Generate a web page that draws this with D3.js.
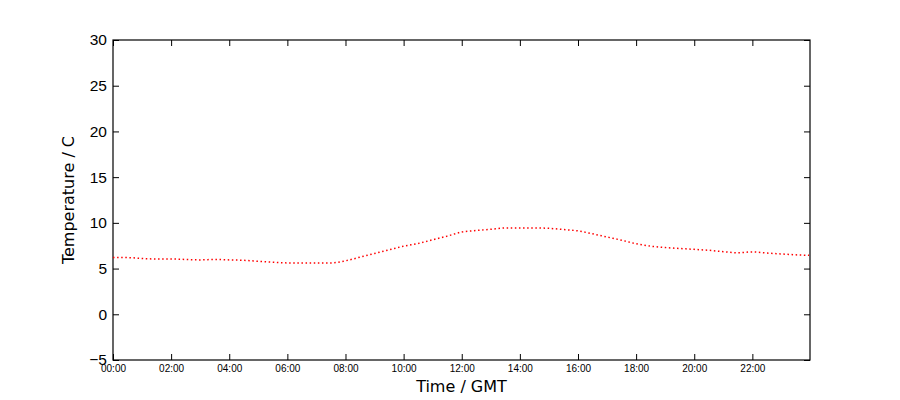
<!DOCTYPE html>
<html>
<head>
<meta charset="utf-8">
<script src="https://cdn.jsdelivr.net/npm/d3@7"></script>
<style>
  html, body { margin: 0; padding: 0; background: #fff; }
  svg { display: block; font-family: "DejaVu Sans", sans-serif; }
</style>
</head>
<body>
<svg id="chart" width="900" height="400"></svg>
<script>
// Data: time of day (GMT) and temperature (°C)
const times = ["00:00","00:30","01:00","01:30","02:00","02:30","03:00","03:30","04:00","04:30",
  "05:00","05:30","06:00","06:30","07:00","07:30","08:00","08:30","09:00","09:30",
  "10:00","10:30","11:00","11:30","12:00","12:30","13:00","13:30","14:00","14:30",
  "15:00","15:30","16:00","16:30","17:00","17:30","18:00","18:30","19:00","19:30",
  "20:00","20:30","21:00","21:30","22:00","22:30","23:00","23:30","23:57"];
const temps = [6.2,6.2,6.1,6.05,6.05,6.0,5.95,6.0,5.95,5.9,
  5.8,5.7,5.62,5.62,5.62,5.62,5.85,6.25,6.65,7.05,
  7.45,7.75,8.15,8.55,9.0,9.16,9.3,9.44,9.45,9.45,
  9.4,9.27,9.12,8.8,8.45,8.1,7.72,7.45,7.3,7.2,
  7.1,7.0,6.85,6.73,6.82,6.7,6.6,6.5,6.45];
const xTickLabels = ["00:00","02:00","04:00","06:00","08:00","10:00","12:00","14:00","16:00","18:00","20:00","22:00"];
const yTicks = [-5,0,5,10,15,20,25,30];

const parse = d3.timeParse("%H:%M");
const data = times.map((t, i) => ({ t: parse(t), v: temps[i] }));

const margin = { left: 113, right: 90, top: 40, bottom: 40 };
const W = 900, H = 400;
const svg = d3.select("#chart");

const x = d3.scaleTime()
  .domain([parse("00:00"), parse("23:59")])
  .range([margin.left, W - margin.right]);
const y = d3.scaleLinear().domain([-5, 30]).range([H - margin.bottom, margin.top]);

const xTickVals = xTickLabels.map(parse);
const fmtY = d => (d < 0 ? "\u2212" + Math.abs(d) : String(d));

// bottom axis
const gx = svg.append("g").attr("transform", `translate(0,${H - margin.bottom})`)
  .call(d3.axisBottom(x).tickValues(xTickVals).tickFormat(d3.timeFormat("%H:%M"))
    .tickSizeInner(-6).tickSizeOuter(0).tickPadding(5));
gx.selectAll("text").attr("font-size", 10).attr("fill", "#000");
// top axis
svg.append("g").attr("transform", `translate(0,${margin.top})`)
  .call(d3.axisTop(x).tickValues(xTickVals).tickFormat("").tickSizeInner(-6).tickSizeOuter(0));
// left axis
const gy = svg.append("g").attr("transform", `translate(${margin.left},0)`)
  .call(d3.axisLeft(y).tickValues(yTicks).tickFormat(fmtY).tickSizeInner(-6).tickSizeOuter(0).tickPadding(6));
gy.selectAll("text").attr("font-size", 15.5).attr("fill", "#000");
// right axis
svg.append("g").attr("transform", `translate(${W - margin.right},0)`)
  .call(d3.axisRight(y).tickValues(yTicks).tickFormat("").tickSizeInner(-6).tickSizeOuter(0));

svg.selectAll(".domain").remove();
svg.selectAll(".tick line").attr("stroke", "#000").attr("stroke-width", 1);

// frame
svg.append("rect")
  .attr("x", margin.left).attr("y", margin.top)
  .attr("width", W - margin.left - margin.right)
  .attr("height", H - margin.top - margin.bottom)
  .attr("fill", "none").attr("stroke", "#000").attr("stroke-width", 1.2);

// line
const line = d3.line().x(d => x(d.t)).y(d => y(d.v)).curve(d3.curveMonotoneX);
svg.append("path").datum(data)
  .attr("d", line)
  .attr("fill", "none")
  .attr("stroke", "#ff0000")
  .attr("stroke-width", 1.5)
  .attr("stroke-dasharray", "1.5,2.6");

// axis labels
svg.append("text")
  .attr("x", (margin.left + W - margin.right) / 2).attr("y", 392)
  .attr("text-anchor", "middle").attr("font-size", 16).attr("fill", "#000")
  .text("Time / GMT");
svg.append("text")
  .attr("transform", `translate(74,${(margin.top + H - margin.bottom) / 2}) rotate(-90)`)
  .attr("text-anchor", "middle").attr("font-size", 16).attr("fill", "#000")
  .text("Temperature / C");
</script>
</body>
</html>
